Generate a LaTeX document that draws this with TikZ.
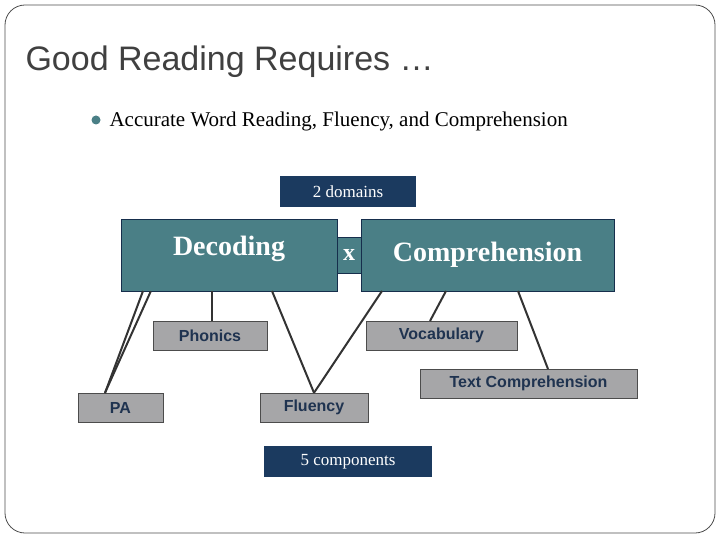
\documentclass[tikz,border=0pt]{standalone}
\usepackage{fontspec}
\setmainfont{Liberation Serif}
\newfontfamily\hsans{Liberation Sans}
\definecolor{navy}{HTML}{1B3A5F}
\definecolor{teal2}{HTML}{4A7F86}
\definecolor{greyb}{HTML}{A6A6A8}
\definecolor{txtc}{HTML}{1F3350}
\begin{document}
\begin{tikzpicture}[x=1pt,y=-1pt,
  dom/.style={draw=navy!80!black,fill=teal2,text=white,font=\fontsize{28}{30}\selectfont\bfseries,inner sep=0pt},
  comp/.style={draw=black!70,fill=greyb,text=txtc,font=\hsans\fontsize{16}{18}\selectfont\bfseries,inner sep=0pt},
  lab/.style={fill=navy,text=white,font=\fontsize{17}{19}\selectfont,inner sep=0pt},
  ln/.style={line width=2pt,draw=black!80}]
\useasboundingbox (0,0) rectangle (720,540);
\draw[black!70,line width=0.8pt,rounded corners=20pt] (5,5) rectangle (715,533);
\node[anchor=west,text=black!75,font=\hsans\fontsize{34}{36}\selectfont] (title) at (22,62) {Good Reading Requires …};
\fill[teal2] (96,120) circle (4.5pt);
\node[anchor=west,font=\fontsize{21}{24}\selectfont] (bul) at (106,121) {Accurate Word Reading, Fluency, and Comprehension};
\node[lab,minimum width=136pt,minimum height=31pt] (dom2) at (348,191.5) {2 domains};
\node[dom,minimum width=24pt,minimum height=36pt,font=\fontsize{24}{26}\selectfont\bfseries] (x) at (349,255) {x};
\node[dom,minimum width=216pt,minimum height=72pt] (dec) at (229,255) {\raisebox{0pt}[0pt][0pt]{\raisebox{0pt}{Decoding}}};
\node[dom,minimum width=253pt,minimum height=72pt] (cmp) at (487.5,255) {Comprehension};
\node[comp,minimum width=114pt,minimum height=29pt] (ph) at (210,335.5) {Phonics};
\node[comp,minimum width=151pt,minimum height=29pt] (voc) at (441.5,335.5) {Vocabulary};
\node[comp,minimum width=217pt,minimum height=29pt] (tc) at (528.5,383.5) {Text Comprehension};
\node[comp,minimum width=85pt,minimum height=29pt] (pa) at (120.5,407.5) {PA};
\node[comp,minimum width=108pt,minimum height=29pt] (fl) at (314,407.5) {Fluency};
\node[lab,minimum width=168pt,minimum height=31pt] (c5) at (348,461.5) {5 components};
\draw[ln] (dec.south west)++(30,0) coordinate (d1);
\draw[ln] (d1) -- (pa.north west -| 105,0);
\draw[ln] (143,291) -- (105,393);
\draw[ln] (ph.north) ++(2,0) -- (212,291);
\draw[ln] (272,291) -- (fl.north);
\draw[ln] (382,291) -- (fl.north);
\draw[ln] (446,291) -- (430,321);
\draw[ln] (518,291) -- (548,369);
\end{tikzpicture}
\end{document}
